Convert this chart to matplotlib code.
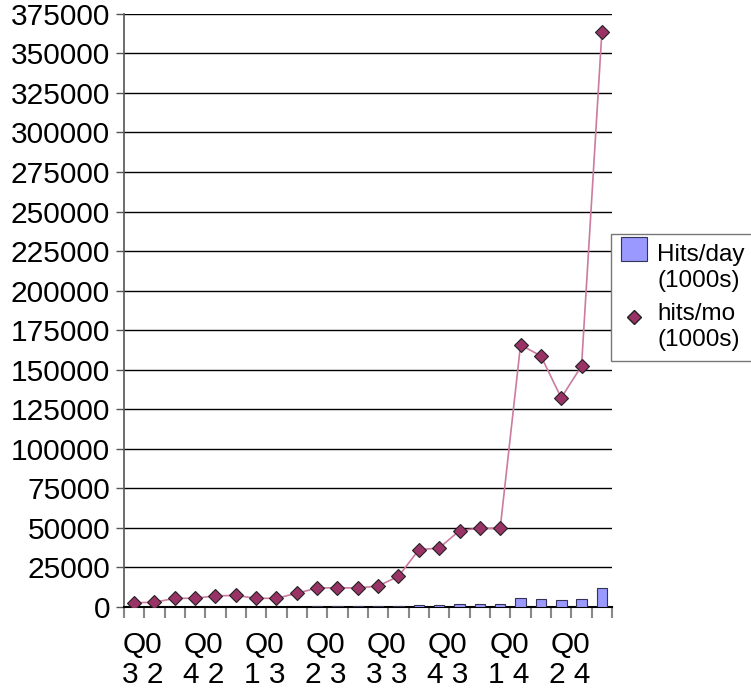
import numpy as np
import matplotlib
matplotlib.use("Agg")
import matplotlib.pyplot as plt
from matplotlib.lines import Line2D
from matplotlib.patches import Patch
from matplotlib.legend_handler import HandlerPatch, HandlerLine2D

plt.rcParams['font.family'] = ['Liberation Sans', 'DejaVu Sans']

# data
hits_mo = [2700, 3000, 5500, 5500, 7100, 7300, 5500, 5500, 8700, 12000, 12200, 12000,
           13300, 19400, 36200, 37300, 48300, 49800, 49800, 165700, 158700, 132200,
           152400, 363600]
hits_day = [90, 100, 180, 180, 240, 245, 180, 180, 290, 400, 405, 400,
            440, 650, 1200, 1240, 1610, 1660, 1660, 5900, 5100, 4400, 5000, 12200]
tick_labels = ['Q0\n3 2', 'Q0\n4 2', 'Q0\n1 3', 'Q0\n2 3',
               'Q0\n3 3', 'Q0\n4 3', 'Q0\n1 4', 'Q0\n2 4']
label_every = 3


# legend keys sit next to the first line of each label
class UpPatch(HandlerPatch):
    def create_artists(self, legend, orig_handle, xdescent, ydescent,
                       width, height, fontsize, trans):
        return super().create_artists(legend, orig_handle, xdescent,
                                      ydescent - 14, width, height,
                                      fontsize, trans)


class UpLine(HandlerLine2D):
    def create_artists(self, legend, orig_handle, xdescent, ydescent,
                       width, height, fontsize, trans):
        arts = super().create_artists(legend, orig_handle, xdescent, ydescent,
                                      width, height, fontsize, trans)
        for a in arts:
            a.set_ydata(np.asarray(a.get_ydata()) + 6)
        return arts


fig = plt.figure(figsize=(7.51, 6.89), dpi=100)
ax = fig.add_axes([0.165, 0.119, 0.65, 0.861])

x = np.arange(len(hits_mo))
ax.bar(x, hits_day, width=0.52, color='#9999FF', edgecolor='#333355',
       linewidth=0.8, zorder=3)
ax.plot(x, hits_mo, color='#CC7A9E', linewidth=1.2, zorder=4)
ax.plot(x, hits_mo, linestyle='none', marker='D', markersize=7.5,
        markerfacecolor='#993366', markeredgecolor='#222222',
        markeredgewidth=0.8, zorder=5)

ax.set_ylim(0, 375000)
ax.set_xlim(-0.5, len(hits_mo) - 0.5)
ax.set_yticks(np.arange(0, 375001, 25000))
ax.yaxis.grid(True, color='black', linewidth=1.0)
ax.set_axisbelow(True)
ax.tick_params(axis='y', labelsize=21.5, length=6, width=1, color='#555555',
               direction='out', pad=4)

# category boundaries as tick marks, labels every 3rd category
ax.set_xticks(np.arange(-0.5, len(hits_mo), 1.0))
ax.set_xticklabels([])
ax.tick_params(axis='x', which='major', length=8, width=1.5, color='#888888',
               direction='out')
ax.set_xticks(np.arange(0, len(hits_mo), label_every) + 0.43, minor=True)
ax.set_xticklabels(tick_labels, minor=True, fontsize=21.5, linespacing=1.12)
ax.tick_params(axis='x', which='minor', length=0, pad=17)

for s in ['top', 'right']:
    ax.spines[s].set_visible(False)
ax.spines['left'].set_color('#555555')
ax.spines['left'].set_linewidth(1.2)
ax.spines['bottom'].set_color('black')
ax.spines['bottom'].set_linewidth(1.5)

bar_key = Patch(facecolor='#9999FF', edgecolor='#333355', linewidth=0.8)
mark_key = Line2D([], [], linestyle='none', marker='D', markersize=7,
                  markerfacecolor='#993366', markeredgecolor='#222222')
leg = fig.legend([bar_key, mark_key], ['Hits/day\n(1000s)', 'hits/mo\n(1000s)'],
                 loc='upper left', bbox_to_anchor=(0.8136, 0.66),
                 bbox_transform=fig.transFigure, borderaxespad=0,
                 fontsize=17.5, fancybox=False, framealpha=1,
                 edgecolor='#777777', handlelength=1.1, handleheight=1.1,
                 handletextpad=0.4, borderpad=0.4, labelspacing=0.45,
                 handler_map={bar_key: UpPatch(), mark_key: UpLine()})
leg.get_frame().set_linewidth(1.0)
for t in leg.get_texts():
    t.set_linespacing(1.25)

fig.savefig('out.png', dpi=100)
